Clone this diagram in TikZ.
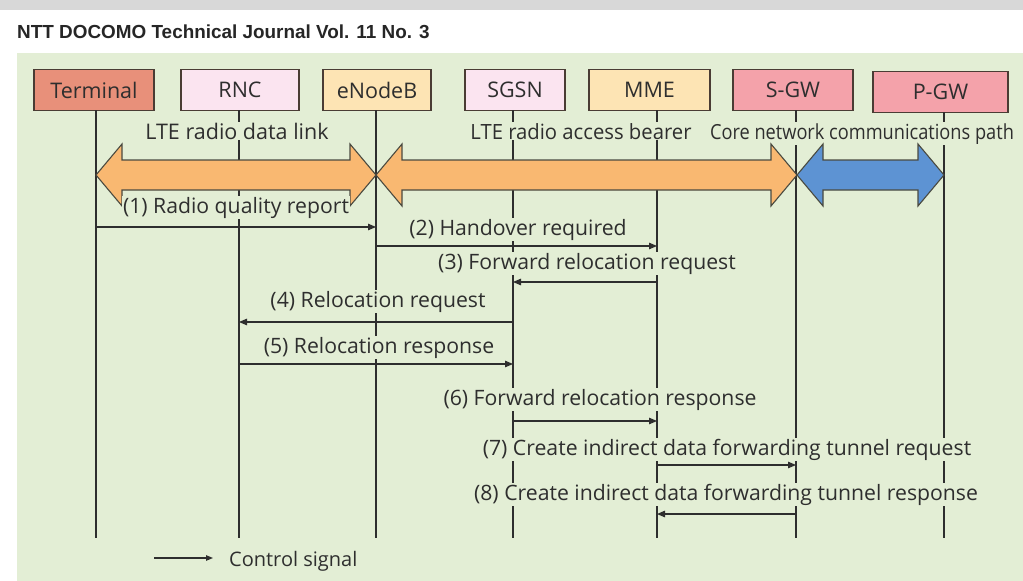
\documentclass[tikz,border=0pt]{standalone}
\usepackage{graphicx}
\usepackage{fontspec}
\setmainfont{Open Sans}
\newfontfamily\titlefont{Liberation Sans}
\usetikzlibrary{arrows.meta}

\definecolor{panelgreen}{HTML}{E3EED5}
\definecolor{topgray}{HTML}{D8D8D8}
\definecolor{inkgray}{HTML}{2E2E2E}
\definecolor{boxline}{HTML}{4A3C34}
\definecolor{termfill}{HTML}{E8907A}
\definecolor{pinkfill}{HTML}{FBE4F0}
\definecolor{creamfill}{HTML}{FDE4B4}
\definecolor{gwfill}{HTML}{F4A2AA}
\definecolor{fatorange}{HTML}{F9B871}
\definecolor{fatblue}{HTML}{5D93D3}
\definecolor{fatline}{HTML}{4A4A40}

\tikzset{
  entity/.style={draw=boxline, line width=1.2pt, minimum height=41pt,
    inner sep=0pt, font=\fontsize{21.5}{21.5}\selectfont, text=inkgray},
  lifeline/.style={draw=inkgray, line width=1.1pt},
  msg/.style={draw=inkgray, line width=1.1pt,
    -{Triangle[length=8pt,width=6.5pt]}},
  msglabel/.style={font=\fontsize{21.2}{21.2}\selectfont, text=inkgray,
    fill=panelgreen, inner sep=1pt, anchor=base},
  fat/.style={draw=fatline, line width=1.1pt, line join=miter},
}

% fat double arrow between two x positions: #1 left, #2 right, #3 fill
\newcommand\fatarrow[3]{%
  \draw[fat, fill=#3] (#1,175) -- ++(26,-31) -- ++(0,16) -- (#2-26,160)
    -- ++(0,-16) -- (#2,175) -- (#2-26,206) -- ++(0,-16) -- (#1+26,190)
    -- ++(0,16) -- cycle;}

\begin{document}
\begin{tikzpicture}[x=1pt, y=-1pt]
\useasboundingbox (0,0) rectangle (1023,581);

% page background
\fill[white] (0,0) rectangle (1023,581);
\fill[topgray] (0,0) rectangle (1023,10);
\fill[panelgreen] (17,53) rectangle (1023,581);

\node[font=\titlefont\bfseries\fontsize{18.9}{18.9}\selectfont, anchor=base west,
  inner sep=0pt, text=black!85] (title) at (17,38) {NTT DOCOMO Technical Journal Vol. 11 No. 3};

% network entities
\node[entity, fill=termfill,  minimum width=120pt] (term) at (94,90)  {Terminal};
\node[entity, fill=pinkfill,  minimum width=118pt] (rnc)  at (240,90) {RNC};
\node[entity, fill=creamfill, minimum width=108pt] (enb)  at (377,90) {eNodeB};
\node[entity, fill=pinkfill,  minimum width=100pt] (sgsn) at (515,90) {SGSN};
\node[entity, fill=creamfill, minimum width=121pt] (mme)  at (649.5,90) {MME};
\node[entity, fill=gwfill,    minimum width=120pt] (sgw)  at (793,90) {S-GW};
\node[entity, fill=gwfill,    minimum width=135pt] (pgw)  at (940.5,92) {P-GW};

% lifelines
\coordinate (lT) at (96,110);
\coordinate (lR) at (239,110);
\coordinate (lE) at (376,110);
\coordinate (lS) at (513,110);
\coordinate (lM) at (657,110);
\coordinate (lG) at (796,110);
\coordinate (lP) at (944,112);
\foreach \c in {lT,lR,lE,lS,lM,lG,lP}
  \draw[lifeline] (\c) -- (\c |- 0,538);

% bearer labels
\node[msglabel, font=\fontsize{21.5}{21.5}\selectfont] (b1) at (237,139) {LTE radio data link};
\node[msglabel, font=\fontsize{21}{21}\selectfont] (b2) at (581,139)
  {\scalebox{0.965}[1]{LTE radio access bearer}};
\node[msglabel, font=\fontsize{20.8}{20.8}\selectfont] (b3) at (862,139)
  {\scalebox{0.875}[1]{Core network communications path}};

% bearers
\fatarrow{96}{376}{fatorange}
\fatarrow{376}{797}{fatorange}
\fatarrow{797}{944}{fatblue}

% signalling sequence
\node[msglabel] (t1) at (236,213) {(1) Radio quality report};
\draw[msg] (lT |- 0,227) -- (lE |- 0,227);

\node[msglabel] (t2) at (518,235) {(2) Handover required};
\draw[msg] (lE |- 0,246) -- (lM |- 0,246);

\node[msglabel] (t3) at (587,269) {(3) Forward relocation request};
\draw[msg] (lM |- 0,282) -- (lS |- 0,282);

\node[msglabel] (t4) at (378,307) {(4) Relocation request};
\draw[msg] (lS |- 0,322) -- (lR |- 0,322);

\node[msglabel] (t5) at (379,353) {(5) Relocation response};
\draw[msg] (lR |- 0,364) -- (lS |- 0,364);

\node[msglabel] (t6) at (600,405) {(6) Forward relocation response};
\draw[msg] (lS |- 0,421) -- (lM |- 0,421);

\node[msglabel] (t7) at (727,455) {(7) Create indirect data forwarding tunnel request};
\draw[msg] (lM |- 0,465) -- (lG |- 0,465);

\node[msglabel] (t8) at (726,500) {(8) Create indirect data forwarding tunnel response};
\draw[msg] (lG |- 0,514) -- (lM |- 0,514);

% legend
\coordinate (keyA) at (154,558);
\coordinate (keyB) at (213,558);
\draw[msg, -{Triangle[length=7pt,width=5.5pt]}] (keyA) -- (keyB);
\node[msglabel, anchor=base west, fill=none, font=\fontsize{20}{20}\selectfont]
  (keytext) at (228,566) {Control signal};
\end{tikzpicture}
\end{document}
